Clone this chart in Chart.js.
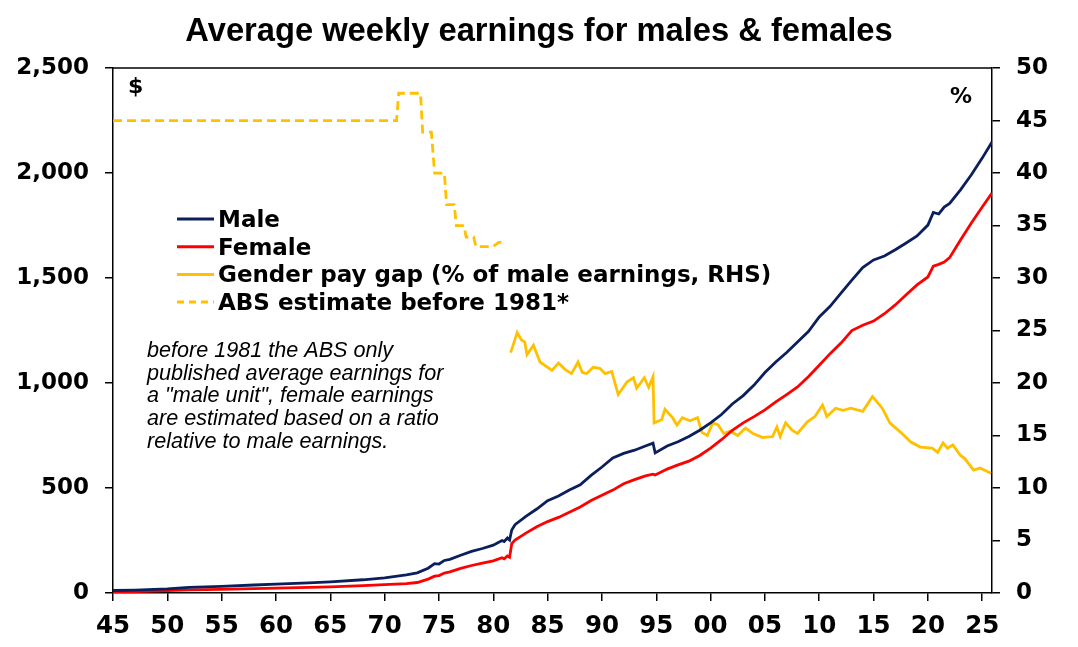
<!DOCTYPE html>
<html>
<head>
<meta charset="utf-8">
<script src="https://cdn.jsdelivr.net/npm/chart.js@4/dist/chart.umd.min.js"></script>
<style>
  html, body { margin: 0; padding: 0; background: #fff; }
  #wrap { width: 1078px; height: 647px; }
</style>
</head>
<body>
<div id="wrap"><canvas id="earnings-chart" width="1078" height="647"></canvas></div>
<script>
// average weekly earnings, $ (years as decimals)
const earnYears = [1945, 1947, 1950, 1952, 1955, 1958, 1960, 1963, 1965, 1968, 1970, 1972, 1973, 1974, 1974.6, 1975, 1975.5, 1976, 1977, 1978, 1979, 1980, 1980.8, 1981, 1981.3, 1981.5, 1981.7, 1982, 1983, 1984,
  1985, 1986, 1987, 1988, 1989, 1990, 1991, 1992, 1993, 1994, 1994.7, 1994.9, 1996, 1997, 1998, 1999, 2000, 2001, 2002, 2003, 2004, 2005, 2006, 2007, 2008, 2009, 2010, 2011, 2012, 2013, 2014, 2015,
  2016, 2017, 2018, 2019, 2020, 2020.5, 2021, 2021.5, 2022, 2023, 2024, 2025, 2025.9];
const maleEarnings = [12, 14, 20, 27, 32, 38, 42, 48, 53, 63, 72, 86, 96, 118, 140, 138, 155, 160, 180, 198, 212, 228, 250, 245, 262, 252, 300, 325, 365, 400,
  440, 462, 490, 515, 560, 600, 643, 665, 680, 700, 714, 667, 700, 720, 745, 775, 810, 850, 900, 940, 990, 1050, 1100, 1145, 1195, 1245, 1315, 1365, 1428, 1490, 1550, 1586,
  1605, 1635, 1667, 1700, 1752, 1812, 1805, 1838, 1855, 1920, 1992, 2071, 2148];
const femaleEarnings = [6, 7, 11, 15, 17.5, 21, 23, 27, 29, 35, 40, 45, 50, 66, 80, 83, 95, 101, 117, 131, 142, 153, 168, 163, 176, 170, 235, 252, 285, 315,
  340, 360, 385, 410, 440, 465, 490, 520, 540, 558, 566, 562, 590, 610, 628, 655, 690, 730, 775, 810, 840, 872, 910, 945, 981, 1030, 1085, 1140, 1190, 1250, 1275, 1295,
  1330, 1372, 1420, 1467, 1505, 1557, 1565, 1576, 1597, 1681, 1762, 1838, 1905];

// gender pay gap, % of male earnings (RHS)
const gapYears = [1981.6, 1982.2, 1982.6, 1982.9, 1983.1, 1983.7, 1984.3, 1985.4, 1986.0, 1986.6, 1987.2, 1987.8, 1988.2, 1988.6, 1989.2, 1989.8, 1990.3, 1990.9, 1991.5, 1992.3,
  1992.9, 1993.2, 1993.9, 1994.3, 1994.7, 1994.8, 1995.5, 1995.8, 1996.5, 1996.9, 1997.4, 1998.1, 1998.8, 1999.2, 1999.7, 2000.2, 2000.7, 2001.2, 2001.8, 2002.5,
  2003.2, 2003.9, 2004.8, 2005.7, 2006.1, 2006.4, 2006.9, 2007.5, 2008.0, 2008.9, 2009.6, 2010.3, 2010.7, 2011.5, 2012.2, 2012.9, 2014.0, 2014.9, 2015.8, 2016.5,
  2017.5, 2018.4, 2019.3, 2020.4, 2020.9, 2021.4, 2021.8, 2022.3, 2023.0, 2023.4, 2024.2, 2024.8, 2025.8];
const payGap = [22.9, 24.8, 24.1, 23.9, 22.7, 23.6, 22.0, 21.2, 21.9, 21.3, 20.9, 22.0, 21.0, 20.9, 21.5, 21.4, 20.9, 21.1, 18.9, 20.1,
  20.5, 19.5, 20.5, 19.6, 20.6, 16.2, 16.5, 17.5, 16.7, 16.0, 16.7, 16.4, 16.7, 15.3, 15.0, 16.2, 16.0, 15.2, 15.4, 15.0,
  15.7, 15.2, 14.8, 14.9, 15.8, 14.9, 16.2, 15.5, 15.2, 16.3, 16.8, 17.9, 16.8, 17.6, 17.4, 17.6, 17.3, 18.7, 17.6, 16.2,
  15.3, 14.4, 13.9, 13.8, 13.4, 14.3, 13.8, 14.1, 13.1, 12.8, 11.7, 11.9, 11.4];

// ABS estimate before 1981 (RHS)
const absYears = [1945, 1971.1, 1971.3, 1973.3, 1973.5, 1974.3, 1974.6, 1975.5, 1975.7, 1976.4, 1976.6, 1977.3, 1977.5, 1978.2, 1978.4, 1980.0, 1980.5, 1981.1];
const absEstimate = [45, 45, 47.6, 47.6, 43.9, 43.9, 40, 40, 37, 37, 35, 35, 33.9, 33.9, 33, 33, 33.4, 33.4];

const xTickYears = [1945, 1950, 1955, 1960, 1965, 1970, 1975, 1980, 1985, 1990, 1995, 2000, 2005, 2010, 2015, 2020, 2025];
const leftTicks = [0, 500, 1000, 1500, 2000, 2500];
const rightTicks = [0, 5, 10, 15, 20, 25, 30, 35, 40, 45, 50];

const noteLines = ['before 1981 the ABS only', 'published average earnings for', 'a "male unit", female earnings', 'are estimated based on a ratio', 'relative to male earnings.'];

const navy = '#0a1f5c', red = '#ff0000', gold = '#ffc000';
const tickFont = { family: 'DejaVu Sans', size: 23, weight: 'bold' };

const pairs = (xs, ys) => xs.map((x, i) => ({ x: x, y: ys[i] }));

// legend, axis units, note and top border drawn on the canvas
const extras = {
  id: 'extras',
  afterDraw(chart) {
    const ctx = chart.ctx, a = chart.chartArea;
    ctx.save();
    ctx.strokeStyle = '#000';
    ctx.lineWidth = 1.5;
    ctx.beginPath();
    ctx.moveTo(a.left, a.top);
    ctx.lineTo(a.right, a.top);
    ctx.stroke();

    ctx.fillStyle = '#000';
    ctx.textBaseline = 'alphabetic';
    ctx.textAlign = 'left';
    ctx.font = 'bold 22px "DejaVu Sans"';
    ctx.fillText('$', 128, 93);
    ctx.fillText('%', 950, 103);

    // legend rows
    ctx.font = 'bold 23px "DejaVu Sans"';
    chart.data.datasets.forEach((ds, i) => {
      const y = 219 + i * 27.7;
      ctx.strokeStyle = ds.borderColor;
      ctx.lineWidth = 3;
      ctx.setLineDash(ds.borderDash ? [7, 5] : []);
      ctx.beginPath();
      ctx.moveTo(177, y);
      ctx.lineTo(214, y);
      ctx.stroke();
      ctx.setLineDash([]);
      ctx.fillText(ds.label, 218, y + 8);
    });

    ctx.font = 'italic 21.6px "Liberation Sans"';
    noteLines.forEach((t, i) => ctx.fillText(t, 147, 357 + i * 22.7));
    ctx.restore();
  }
};

new Chart(document.getElementById('earnings-chart'), {
  type: 'line',
  data: {
    datasets: [
      { label: 'Male', data: pairs(earnYears, maleEarnings), borderColor: navy, yAxisID: 'y' },
      { label: 'Female', data: pairs(earnYears, femaleEarnings), borderColor: red, yAxisID: 'y' },
      { label: 'Gender pay gap (% of male earnings, RHS)', data: pairs(gapYears, payGap), borderColor: gold, yAxisID: 'y1' },
      { label: 'ABS estimate before 1981*', data: pairs(absYears, absEstimate), borderColor: gold, borderDash: [9, 5], yAxisID: 'y1' }
    ]
  },
  options: {
    responsive: false,
    animation: false,
    layout: { padding: 0 },
    elements: {
      point: { radius: 0 },
      line: { borderWidth: 2.8, tension: 0, fill: false }
    },
    plugins: {
      legend: { display: false },
      tooltip: { enabled: false },
      title: {
        display: true,
        text: 'Average weekly earnings for males & females',
        color: '#000',
        font: { family: 'Liberation Sans', size: 32.7, weight: 'bold' },
        padding: { top: 12.5, bottom: 16.3 }
      }
    },
    scales: {
      x: {
        type: 'linear',
        min: 1945,
        max: 2025.9,
        afterBuildTicks: s => { s.ticks = xTickYears.map(v => ({ value: v })); },
        afterFit: s => { s.height = 54; },
        ticks: {
          color: '#000', font: { family: 'DejaVu Sans', size: 24.5, weight: 'bold' }, padding: 11, maxRotation: 0, autoSkip: false,
          callback: v => String(v % 100).padStart(2, '0')
        },
        grid: { drawOnChartArea: false, drawTicks: true, tickLength: 8, color: '#000', lineWidth: 1.5 },
        border: { display: true, color: '#000', width: 1.5 }
      },
      y: {
        position: 'left',
        min: 0,
        max: 2500,
        afterBuildTicks: s => { s.ticks = leftTicks.map(v => ({ value: v })); },
        afterFit: s => { s.width = 113; },
        ticks: { color: '#000', font: tickFont, padding: 16, callback: v => v.toLocaleString('en-US') },
        grid: { drawOnChartArea: false, drawTicks: true, tickLength: 8, color: '#000', lineWidth: 1.5 },
        border: { display: true, color: '#000', width: 1.5 }
      },
      y1: {
        position: 'right',
        min: 0,
        max: 50,
        afterBuildTicks: s => { s.ticks = rightTicks.map(v => ({ value: v })); },
        afterFit: s => { s.width = 86; },
        ticks: { color: '#000', font: tickFont, padding: 16 },
        grid: { drawOnChartArea: false, drawTicks: true, tickLength: 8, color: '#000', lineWidth: 1.5 },
        border: { display: true, color: '#000', width: 1.5 }
      }
    }
  },
  plugins: [extras]
});
</script>
</body>
</html>
